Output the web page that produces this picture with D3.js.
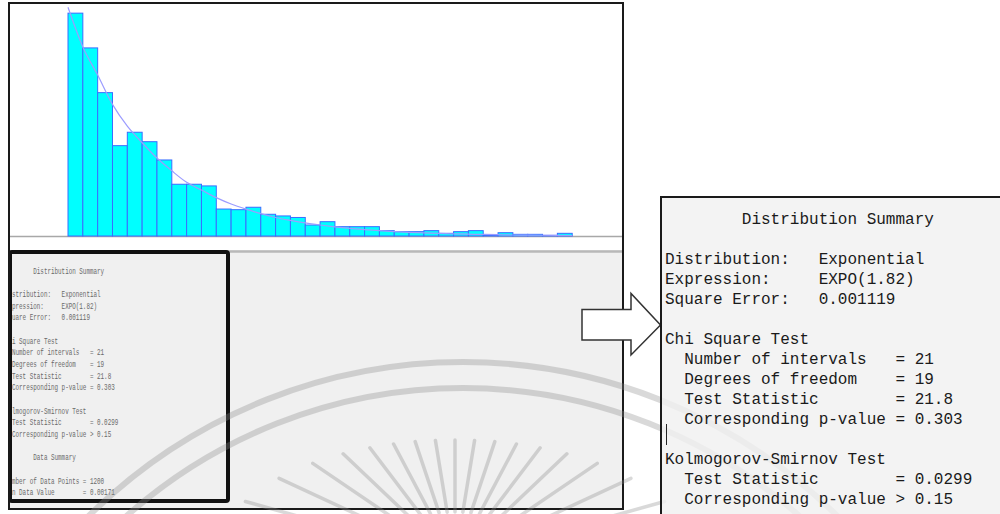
<!DOCTYPE html>
<html>
<head>
<meta charset="utf-8">
<script src="https://cdn.jsdelivr.net/npm/d3@7"></script>
<style>
  body { margin: 0; background: #fff; }
  svg { display: block; }
</style>
</head>
<body>
<script>
// histogram bins, relative frequency in percent
const binPct = [17.44, 14.72, 11.22, 7.07, 8.12, 7.38, 5.95, 4.05, 4.05, 3.92,
  2.11, 2.06, 2.25, 1.70, 1.57, 1.45, 0.86, 1.12, 0.73, 0.73,
  0.73, 0.42, 0.34, 0.34, 0.42, 0.21, 0.34, 0.42, 0.08, 0.26,
  0.13, 0.13, 0.05, 0.21];
const binWidth = 0.325;

// fitted EXPO(1.82) curve, read at each bin edge
const curvePct = [17.9, 14.8, 12.6, 10.3, 8.6, 7.3, 6.1, 5.1, 4.2, 3.6,
  3.0, 2.5, 2.1, 1.75, 1.45, 1.22, 1.02, 0.86, 0.72, 0.6,
  0.5, 0.42, 0.35, 0.29, 0.25, 0.2, 0.17, 0.14, 0.12, 0.1,
  0.08, 0.07, 0.06, 0.05, 0.04];

const summaryLines = [
  "        Distribution Summary",
  "",
  "Distribution:   Exponential",
  "Expression:     EXPO(1.82)",
  "Square Error:   0.001119",
  "",
  "Chi Square Test",
  "  Number of intervals   = 21",
  "  Degrees of freedom    = 19",
  "  Test Statistic        = 21.8",
  "  Corresponding p-value = 0.303",
  "",
  "Kolmogorov-Smirnov Test",
  "  Test Statistic        = 0.0299",
  "  Corresponding p-value > 0.15",
  "",
  "        Data Summary",
  "",
  "Number of Data Points = 1200",
  "Min Data Value        = 0.00171"
];
// the zoomed panel only shows the top part
const bigLineCount = 15;

// watermark ray angles (degrees from vertical)
const rayAngles = d3.range(-9, 10).map(k => k * 9.3);

const width = 1000, height = 514;

const svg = d3.select("body").append("svg")
  .attr("width", width)
  .attr("height", height)
  .attr("font-family", "'Liberation Mono', 'DejaVu Sans Mono', monospace");

const defs = svg.append("defs");
defs.append("clipPath").attr("id", "smallClip")
  .append("rect").attr("x", 12).attr("y", 254).attr("width", 214).attr("height", 245);
defs.append("clipPath").attr("id", "bigClip")
  .append("rect").attr("x", 662).attr("y", 198).attr("width", 338).attr("height", 316);

// lower grey panel of the left window
svg.append("rect")
  .attr("x", 10).attr("y", 250).attr("width", 612).attr("height", 259)
  .attr("fill", "#f0f0f0");

// chart area
svg.append("rect")
  .attr("x", 10).attr("y", 4).attr("width", 612).attr("height", 246)
  .attr("fill", "#fff");

svg.append("line")
  .attr("x1", 10).attr("x2", 622).attr("y1", 236.5).attr("y2", 236.5)
  .attr("stroke", "#a8a8a8").attr("stroke-width", 1.5);
svg.append("line")
  .attr("x1", 10).attr("x2", 622).attr("y1", 251.5).attr("y2", 251.5)
  .attr("stroke", "#b8b8b8").attr("stroke-width", 2.5);

const x = d3.scaleLinear()
  .domain([0, binPct.length * binWidth])
  .range([68, 572.2]);
const y = d3.scaleLinear()
  .domain([0, 18])
  .range([236, 6]);

svg.append("g")
  .selectAll("rect")
  .data(binPct)
  .join("rect")
  .attr("x", (d, i) => x(i * binWidth))
  .attr("y", d => y(d))
  .attr("width", x(binWidth) - x(0))
  .attr("height", d => y(0) - y(d))
  .attr("fill", "#00ffff")
  .attr("stroke", "#3b6cff")
  .attr("stroke-width", 1);

const line = d3.line()
  .x((d, i) => x(i * binWidth))
  .y(d => y(d))
  .curve(d3.curveMonotoneX);

svg.append("path")
  .datum(curvePct)
  .attr("d", line)
  .attr("fill", "none")
  .attr("stroke", "#9c9cff")
  .attr("stroke-width", 1.2);

// small summary text, squeezed like the screenshot
const small = svg.append("g").attr("clip-path", "url(#smallClip)")
  .append("g")
  .attr("transform", "translate(4.9,270.3) scale(0.37,0.5835)");
small.selectAll("text")
  .data(summaryLines)
  .join("text")
  .attr("x", 0)
  .attr("y", (d, i) => i * 20)
  .attr("dy", "0.35em")
  .attr("font-size", 16)
  .attr("fill", "#6a6a6a")
  .style("white-space", "pre")
  .text(d => d);

// thick box round the small text
svg.append("rect")
  .attr("x", 10).attr("y", 252).attr("width", 218).attr("height", 249)
  .attr("rx", 2)
  .attr("fill", "none")
  .attr("stroke", "#111")
  .attr("stroke-width", 4);

// outer window frame
svg.append("rect")
  .attr("x", 9).attr("y", 3).attr("width", 614).attr("height", 506)
  .attr("fill", "none")
  .attr("stroke", "#1a1a1a")
  .attr("stroke-width", 2);

// arrow
svg.append("path")
  .attr("d", "M582,309.5 H631 V293.5 L660.5,325 L631,355 V340 H582 Z")
  .attr("fill", "#fff")
  .attr("stroke", "#333")
  .attr("stroke-width", 1.5);

// watermark
const wm = svg.append("g")
  .attr("stroke", "#8a8a8a")
  .attr("fill", "none")
  .attr("opacity", 0.32);
wm.selectAll("circle")
  .data([532, 506])
  .join("circle")
  .attr("cx", 463).attr("cy", 894)
  .attr("r", d => d)
  .attr("stroke-width", 6);

const rc = [455, 560], ra = 240, rb = 120;
wm.selectAll("line")
  .data(rayAngles)
  .join("line")
  .each(function (a) {
    const t = a * Math.PI / 180;
    const s = Math.sin(t), c = Math.cos(t);
    const r = 1 / Math.sqrt((s / ra) ** 2 + (c / rb) ** 2);
    d3.select(this)
      .attr("x1", rc[0] + r * s).attr("y1", rc[1] - r * c)
      .attr("x2", rc[0] + r * 0.4 * s).attr("y2", rc[1] - r * 0.4 * c);
  })
  .attr("stroke-width", 3.5)
  .attr("stroke-linecap", "round");

// zoomed summary panel
svg.append("rect")
  .attr("x", 661).attr("y", 197).attr("width", 339).attr("height", 317)
  .attr("fill", "#f0f0f0")
  .attr("fill-opacity", 0.82);
svg.append("path")
  .attr("d", "M661,514 V197 H1000")
  .attr("fill", "none")
  .attr("stroke", "#1a1a1a")
  .attr("stroke-width", 2);

const big = svg.append("g").attr("clip-path", "url(#bigClip)")
  .append("g")
  .attr("transform", "translate(665,218.3)");
big.selectAll("text")
  .data(summaryLines.slice(0, bigLineCount))
  .join("text")
  .attr("x", 0)
  .attr("y", (d, i) => i * 20)
  .attr("dy", "0.35em")
  .attr("font-size", 16)
  .attr("fill", "#1a1a1a")
  .style("white-space", "pre")
  .text(d => d);

// text cursor
svg.append("line")
  .attr("x1", 666.5).attr("x2", 666.5).attr("y1", 424).attr("y2", 445)
  .attr("stroke", "#222").attr("stroke-width", 1);
</script>
</body>
</html>
